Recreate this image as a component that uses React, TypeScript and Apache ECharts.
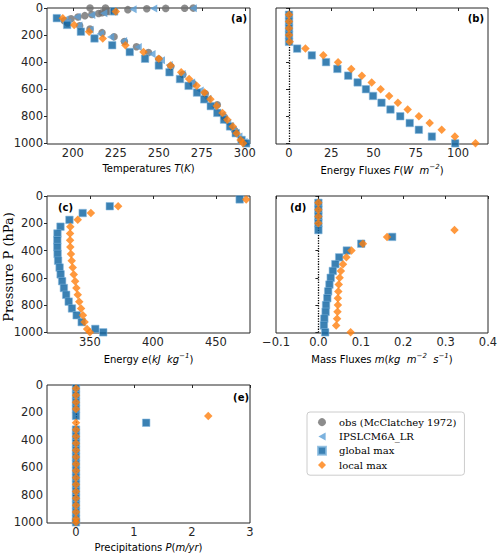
import React, { useEffect, useRef } from "react";
import * as echarts from "echarts";

// ---------- data ----------
const levelsMid = [25, 75, 125, 175, 225, 275, 325, 375, 425, 475, 525, 575, 625, 675, 725, 775, 825, 875, 925, 975, 1000];
const levelsHalf = [50, 100, 150, 200, 250, 300, 350, 400, 450, 500, 550, 600, 650, 700, 750, 800, 850, 900, 950, 1000];

const obsPressure = [1013, 904, 805, 715, 633, 559, 492, 432, 378, 329, 286, 247, 213, 182, 156, 132, 111, 93.7, 78.9, 66.6, 56.5, 48, 40.9, 35, 30, 25.7, 12.2, 6, 3.05, 1.59, 0.854, 0.0579, 0.0003];
const obsTemperature = [300, 294, 288, 284, 277, 270, 264, 257, 250, 244, 237, 230, 224, 217, 210, 204, 197, 195, 199, 203, 207, 211, 215, 217, 219, 221, 232, 243, 254, 265, 270, 219, 210];

const ipslPressure = [1, 4, 10, 39, 51, 64, 85, 105, 130, 160, 190, 215, 244, 288, 340, 386, 422, 488, 550, 610, 670, 730, 790, 850, 900, 950, 990];
const ipslTemperature = [270, 247, 235, 218, 211, 202.5, 195.5, 197, 203.5, 210, 216, 222, 229.5, 238, 246, 251.5, 256, 263.5, 269, 274, 278.5, 282.5, 286.5, 290, 293, 296.5, 299.5];

const tempGlobal = [224, 190.7, 196.7, 204.7, 212.6, 222.9, 233.1, 242, 250, 256.2, 262.3, 267.3, 272.2, 276.4, 280.2, 284, 287.9, 291.4, 294.7, 298.1, 300.8];
const tempLocal = [225, 194.2, 200.8, 209.5, 217.4, 230.6, 241.1, 250, 256.8, 263, 267.6, 272, 276.5, 280, 283.6, 287, 289.8, 293, 295.2, 297.5, 299];

const fluxGlobal = [0, 0, 0, 0, 0, 4.8, 13.5, 21.9, 28.6, 35, 40.6, 45.5, 49.7, 54.7, 60, 65.8, 71.4, 76.8, 84.5, 98.3];
const fluxLocal = [0, 0, 0, 0, 0.4, 9.7, 20.3, 29, 36.8, 43.1, 48.9, 54.2, 59.2, 64.4, 70.2, 76.8, 83.2, 90.3, 98.1, 110.3];

const energyGlobal = [468.8, 365.8, 344.3, 333.8, 326.7, 324.3, 324.2, 324.2, 324.4, 324.8, 326, 326.8, 328, 329.4, 331.2, 333.2, 335.8, 339.5, 343.5, 354.3, 360.6];
const energyLocal = [474, 372.4, 350.8, 340.4, 334.5, 334.3, 334.3, 334.5, 335, 335.6, 336.4, 337.2, 338.3, 339.3, 340.4, 341.6, 343, 344.5, 345.8, 347.8, 350];

const massGlobal = [0, 0, 0, 0, 0, 0.174, 0.101, 0.067, 0.049, 0.04, 0.034, 0.029, 0.026, 0.023, 0.021, 0.018, 0.017, 0.014, 0.013, 0.016];
const massLocal = [0, 0, 0, 0, 0.321, 0.162, 0.105, 0.078, 0.066, 0.058, 0.053, 0.05, 0.048, 0.047, 0.046, 0.046, 0.045, 0.044, 0.042, 0.076];

const precipGlobal = [0, 0, 0, 0, 0, 1.21, 0, 0, 0, 0, 0, 0, 0, 0, 0, 0, 0, 0, 0, 0, 0];
const precipLocal = [0, 0, 0, 0, 2.28, 0, 0, 0, 0, 0, 0, 0, 0, 0, 0, 0, 0, 0, 0, 0, 0];

const pressureTicks = [0, 200, 400, 600, 800, 1000];
const tempTicks = [200, 225, 250, 275, 300];
const fluxTicks = [0, 25, 50, 75, 100];
const energyTicks = [350, 400, 450];
const massTicks = [-0.1, 0, 0.1, 0.2, 0.3, 0.4];
const precipTicks = [0, 1, 2, 3];

const NAME_OBS = "obs (McClatchey 1972)";
const NAME_IPSL = "IPSLCM6A_LR";
const NAME_GLOBAL = "global max";
const NAME_LOCAL = "local max";

// ---------- styles ----------
const C_OBS = "#6f6f6f";
const C_IPSL = "#5b9fd6";
const C_GLOBAL = "#0a62a0";
const C_LOCAL = "#ff7f0e";
const AX = "#262626";
const SANS = "DejaVu Sans";
const SERIF = "DejaVu Serif";

const pair = (xs: number[], ps: number[]) => xs.map((x, i) => [x, ps[i]]);

const nameRich = {
  n: { fontSize: 10, fontFamily: SANS, color: "#000" },
  i: { fontSize: 10, fontFamily: SANS, color: "#000", fontStyle: "italic" },
  s: { fontSize: 7, fontFamily: SANS, color: "#000", fontStyle: "italic", padding: [0, 0, 8, 0] },
};

const fmtMinus = (v: number, d: number) => (v < 0 ? "\u2212" + Math.abs(v).toFixed(d) : v.toFixed(d));

function xAxisFor(gridIndex: number, min: number, max: number, ticks: number[], name: string, dec: number) {
  return {
    type: "value",
    gridIndex,
    min,
    max,
    name,
    nameLocation: "middle",
    nameGap: 19,
    nameTextStyle: { rich: nameRich },
    axisLine: { show: false },
    splitLine: { show: false },
    axisTick: { show: true, length: 3, lineStyle: { color: AX, width: 1 }, customValues: ticks },
    axisLabel: {
      customValues: ticks,
      fontSize: 11.5,
      fontFamily: SANS,
      color: AX,
      margin: 3,
      formatter: (v: number) => fmtMinus(v, dec),
    },
  };
}

function yAxisFor(gridIndex: number, showLabels: boolean) {
  return {
    type: "value",
    gridIndex,
    min: 0,
    max: 1005,
    inverse: true,
    axisLine: { show: false },
    splitLine: { show: false },
    axisTick: { show: true, length: 3, lineStyle: { color: AX, width: 1 }, customValues: pressureTicks },
    axisLabel: {
      show: showLabels,
      customValues: pressureTicks,
      fontSize: 11.5,
      fontFamily: SANS,
      color: AX,
      margin: 4,
      formatter: (v: number) => String(v),
    },
  };
}

const symObs = { symbol: "circle", symbolSize: 7.5, itemStyle: { color: C_OBS } };
const symIpsl = { symbol: "path://M0,5L9,0L9,10Z", symbolSize: 8, symbolKeepAspect: true, itemStyle: { color: C_IPSL } };
const symGlobal = { symbol: "rect", symbolSize: 7.5, itemStyle: { color: C_GLOBAL, borderColor: "#86b9df", borderWidth: 0.7 } };
const symLocal = { symbol: "diamond", symbolSize: [8.5, 8.5], itemStyle: { color: C_LOCAL } };

const zeroLine = {
  silent: true,
  symbol: "none",
  z: 1,
  label: { show: false },
  lineStyle: { type: "dotted", color: "#000", width: 1.3 },
  data: [{ xAxis: 0 }],
};

function scatter(name: string, idx: number, data: number[][], sym: any, extra: any = {}) {
  return { type: "scatter", name, xAxisIndex: idx, yAxisIndex: idx, data, ...sym, ...extra };
}

export default function App() {
  const ref = useRef<HTMLDivElement>(null);

  useEffect(() => {
    if (!ref.current) return;
    const chart = echarts.init(ref.current, undefined, { renderer: "svg" });

    const gridBase = { show: true, borderColor: AX, borderWidth: 1, backgroundColor: "transparent", containLabel: false, outerBoundsMode: "none" };

    const labelStyle = (x: number, y: number, text: string, align: string) => ({
      type: "text",
      x,
      y,
      style: { text, fontFamily: SANS, fontWeight: "bold", fontSize: 10, fill: "#000", align, verticalAlign: "middle" },
    });

    const option: any = {
      animation: false,
      backgroundColor: "#fff",
      grid: [
        { ...gridBase, left: 47, top: 8, width: 203, height: 136 },
        { ...gridBase, left: 276, top: 8, width: 212, height: 136 },
        { ...gridBase, left: 47, top: 196, width: 203, height: 137 },
        { ...gridBase, left: 276, top: 196, width: 212, height: 137 },
        { ...gridBase, left: 47, top: 385, width: 203, height: 138 },
      ],
      xAxis: [
        xAxisFor(0, 185, 303, tempTicks, "{n|Temperatures }{i|T}{n|(}{i|K}{n|)}", 0),
        xAxisFor(1, -7.7, 117.7, fluxTicks, "{n|Energy Fluxes }{i|F}{n|(}{i|W  m}{s|\u22122}{n|)}", 0),
        xAxisFor(2, 316, 477, energyTicks, "{n|Energy }{i|e}{n|(}{i|kJ  kg}{s|\u22121}{n|)}", 0),
        xAxisFor(3, -0.1, 0.4, massTicks, "{n|Mass Fluxes }{i|m}{n|(}{i|kg  m}{s|\u22122}{i|  s}{s|\u22121}{n|)}", 1),
        xAxisFor(4, -0.5, 3, precipTicks, "{n|Precipitations }{i|P}{n|(}{i|m/yr}{n|)}", 0),
      ],
      yAxis: [yAxisFor(0, true), yAxisFor(1, false), yAxisFor(2, true), yAxisFor(3, false), yAxisFor(4, true)],
      legend: {
        orient: "vertical",
        left: 307,
        top: 412,
        selectedMode: false,
        data: [NAME_OBS, NAME_IPSL, NAME_GLOBAL, NAME_LOCAL],
        backgroundColor: "#fff",
        borderColor: "#cccccc",
        borderWidth: 1,
        borderRadius: 3,
        padding: [4, 8, 4, 10],
        itemGap: 2,
        itemWidth: 8,
        itemHeight: 8,
        textStyle: { fontFamily: SERIF, fontSize: 10, color: "#000", lineHeight: 12.3, padding: [0, 0, 0, 8] },
      },
      graphic: [
        labelStyle(247, 18, "(a)", "right"),
        labelStyle(484, 18.5, "(b)", "right"),
        labelStyle(58, 207, "(c)", "left"),
        labelStyle(290, 207.5, "(d)", "left"),
        labelStyle(249, 397, "(e)", "right"),
        {
          type: "text",
          x: 8.5,
          y: 267,
          rotation: Math.PI / 2,
          style: { text: "Pressure P (hPa)", fontFamily: SERIF, fontSize: 13, fill: "#000", align: "center", verticalAlign: "middle" },
        },
      ],
      series: [
        // (a)
        scatter(NAME_OBS, 0, pair(obsTemperature, obsPressure), symObs),
        scatter(NAME_IPSL, 0, pair(ipslTemperature, ipslPressure), symIpsl),
        scatter(NAME_GLOBAL, 0, pair(tempGlobal, levelsMid), symGlobal),
        scatter(NAME_LOCAL, 0, pair(tempLocal, levelsMid), symLocal),
        // (b)
        scatter(NAME_GLOBAL, 1, pair(fluxGlobal, levelsHalf), symGlobal, { markLine: zeroLine }),
        scatter(NAME_LOCAL, 1, pair(fluxLocal, levelsHalf), symLocal),
        // (c)
        scatter(NAME_GLOBAL, 2, pair(energyGlobal, levelsMid), symGlobal),
        scatter(NAME_LOCAL, 2, pair(energyLocal, levelsMid), symLocal),
        // (d)
        scatter(NAME_GLOBAL, 3, pair(massGlobal, levelsHalf), symGlobal, { markLine: zeroLine }),
        scatter(NAME_LOCAL, 3, pair(massLocal, levelsHalf), symLocal),
        // (e)
        scatter(NAME_GLOBAL, 4, pair(precipGlobal, levelsMid), symGlobal, { markLine: zeroLine }),
        scatter(NAME_LOCAL, 4, pair(precipLocal, levelsMid), symLocal),
      ],
    };

    chart.setOption(option);
    return () => chart.dispose();
  }, []);

  return <div ref={ref} style={{ position: "absolute", left: 0, top: 0, width: 500, height: 558 }} />;
}
